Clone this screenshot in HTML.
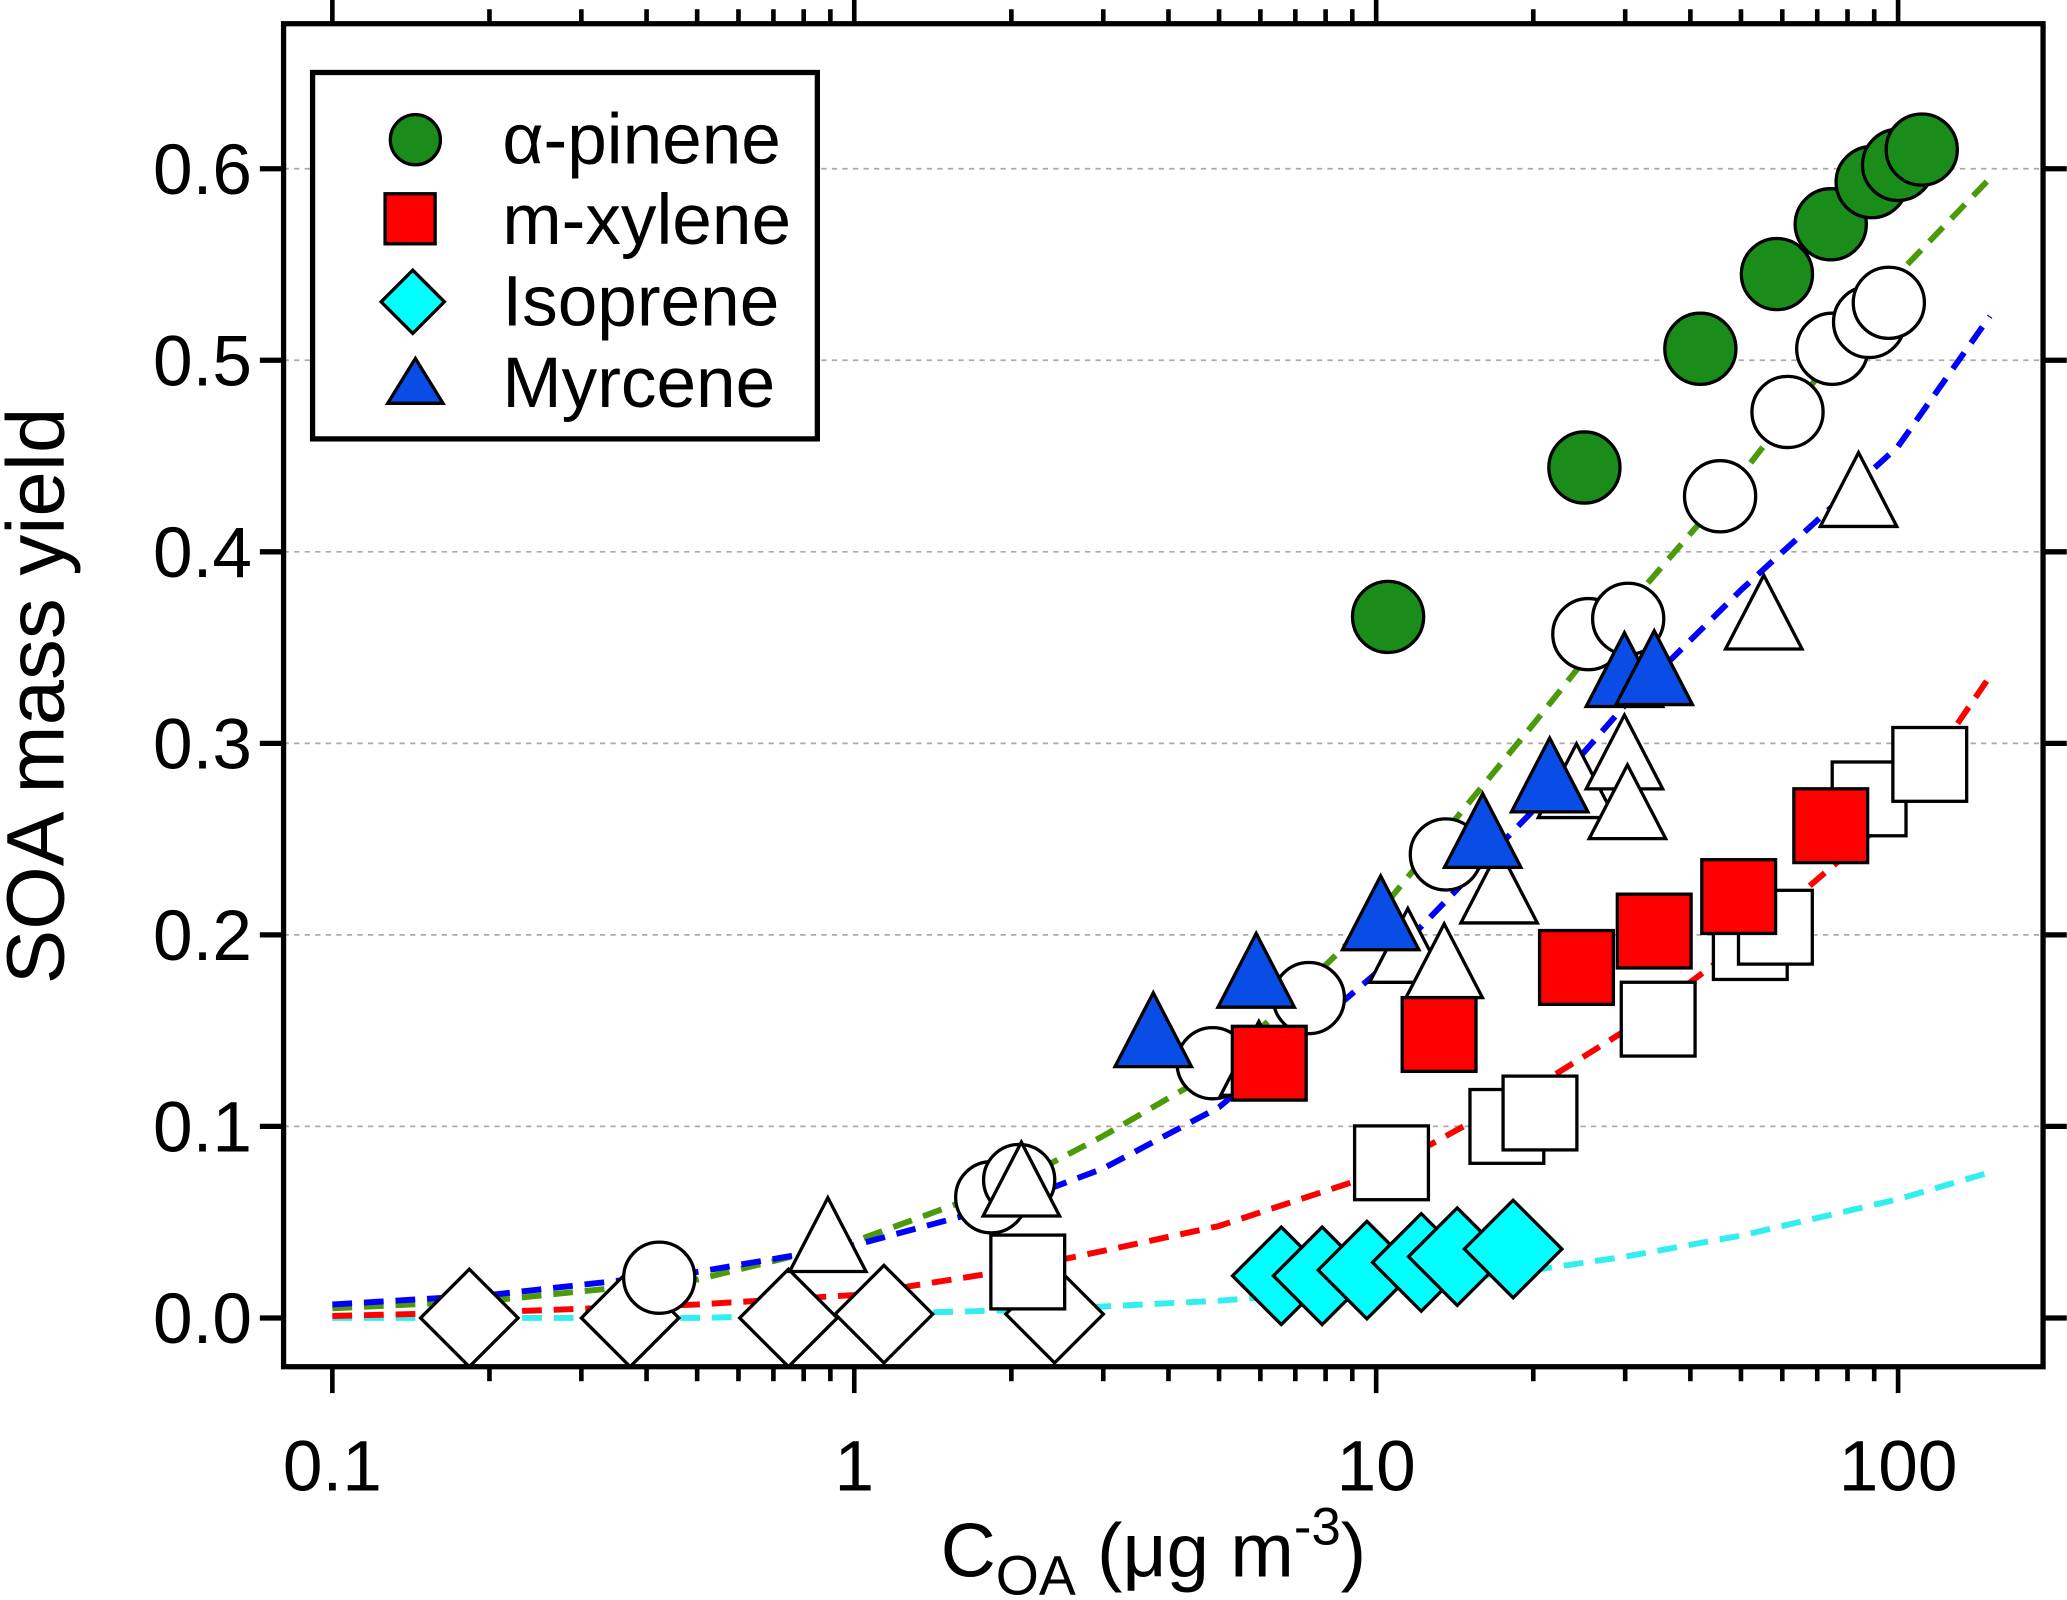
<!DOCTYPE html>
<html><head><meta charset="utf-8"><style>
html,body{margin:0;padding:0;background:#fff;}
svg{display:block;font-family:"Liberation Sans",Arial,sans-serif;}
</style></head><body>
<svg id="chart" width="2067" height="1600" viewBox="0 0 1568 1214" xmlns="http://www.w3.org/2000/svg">
<g id="grid"></g>
<g id="curves"></g>
<g id="marks"></g>
<rect x="215" y="18" width="1335" height="1019" fill="none" stroke="#000" stroke-width="4"/>
<g id="ticks"></g>
<text transform="translate(48,528) rotate(-90)" text-anchor="middle" font-size="62">SOA mass yield</text>
<text x="875" y="1196" text-anchor="middle" font-size="58">C<tspan font-size="42" dy="14">OA</tspan><tspan dy="-14"> (μg m</tspan><tspan font-size="40" dy="-24">-3</tspan><tspan dy="24">)</tspan></text>
<g>
<rect x="237" y="55" width="383" height="278" fill="#fff" stroke="#000" stroke-width="4"/>
<circle cx="315" cy="106" r="19" fill="#1a8c1a" stroke="#000" stroke-width="2.5"/>
<text x="381" y="124" font-size="54">α-pinene</text>
<rect x="292" y="147" width="38" height="38" fill="#f00" stroke="#000" stroke-width="2.5"/>
<text x="381" y="185" font-size="54">m-xylene</text>
<polygon points="313,205 337,229 313,253 289,229" fill="#00ffff" stroke="#000" stroke-width="2.5"/>
<text x="381" y="247" font-size="54">Isoprene</text>
<polygon points="315,272 336,306 294,306" fill="#0a4de6" stroke="#000" stroke-width="2.5"/>
<text x="381" y="309" font-size="54">Myrcene</text>
</g>
</svg>
<script>
const yTicks=[0,0.1,0.2,0.3,0.4,0.5,0.6];
const yTickLabels=["0.0","0.1","0.2","0.3","0.4","0.5","0.6"];
const xTicks=[0.1,1,10,100];
const xTickLabels=["0.1","1","10","100"];
const curveX=[0.1,0.2,0.5,1,2,3,5,10,20,30,50,100,150];
const curveGreen=[0.005,0.009,0.02,0.04,0.07,0.095,0.13,0.21,0.31,0.37,0.44,0.545,0.595];
const curveBlue=[0.007,0.012,0.024,0.038,0.06,0.078,0.11,0.18,0.265,0.32,0.38,0.455,0.523];
const curveRed=[0.001,0.003,0.007,0.012,0.025,0.035,0.048,0.075,0.12,0.15,0.195,0.265,0.335];
const curveCyan=[0,0,0,0.002,0.004,0.006,0.009,0.015,0.025,0.032,0.043,0.062,0.076];
const apOpenX=[0.423,4.86,7.43,1.83,2.07,13.6,25.5,30.4,45.6,61.4,74.8,88,96];
const apOpenY=[0.021,0.133,0.167,0.063,0.072,0.242,0.357,0.365,0.429,0.473,0.506,0.52,0.53];
const apX=[10.54,25.06,41.8,58.6,74.3,89,100,111];
const apY=[0.366,0.444,0.506,0.545,0.571,0.593,0.602,0.61];
const mxOpenX=[2.15,10.7,17.8,20.6,34.7,52.1,58.2,88,115];
const mxOpenY=[0.024,0.081,0.1,0.107,0.156,0.196,0.204,0.271,0.289];
const mxX=[6.24,13.2,24.2,34.1,49.5,74.3];
const mxY=[0.133,0.148,0.183,0.202,0.22,0.257];
const isoOpenX=[0.183,0.372,0.748,1.14,2.42];
const isoOpenY=[0,0,0,0.002,0.002];
const isoX=[6.58,7.88,9.6,12.2,14.3,18.3];
const isoY=[0.022,0.022,0.025,0.029,0.032,0.036];
const myOpenX=[0.89,2.09,5.96,11.5,13.5,17.2,24.2,29.9,30.3,55.3,84];
const myOpenY=[0.038,0.067,0.13,0.189,0.181,0.22,0.275,0.29,0.264,0.363,0.427];
const myX=[3.74,5.89,10.2,16.0,21.5,29.9,34.1];
const myY=[0.145,0.176,0.206,0.249,0.278,0.333,0.334];

const NS="http://www.w3.org/2000/svg";
const X0=215,X1=1550,Y0=18,Y1=1037;
function sx(v){return 648+396*Math.log10(v);}
function sy(v){return 1000-1453.3*v;}
function mk(tag,attrs,parent){const e=document.createElementNS(NS,tag);for(const k in attrs)e.setAttribute(k,attrs[k]);parent.appendChild(e);return e;}
const grid=document.getElementById('grid'),ticks=document.getElementById('ticks'),curves=document.getElementById('curves'),marks=document.getElementById('marks');

yTicks.forEach((v,i)=>{
  const y=sy(v);
  if(v>0){const g=mk('line',{x1:X0,x2:X1,y1:y,y2:y,stroke:'#aaa','stroke-width':1.3,'stroke-dasharray':'4,4'},grid);
  
  }
  const t1=mk('line',{x1:X0-18,x2:X0,y1:y,y2:y,stroke:'#000','stroke-width':4},ticks);
  
  
  const t2=mk('line',{x1:X1,x2:X1+18,y1:y,y2:y,stroke:'#000','stroke-width':4},ticks);
  
  
  const l=mk('text',{x:191,y:y+19,'text-anchor':'end','font-size':54},ticks);
  l.textContent=yTickLabels[i];
  
  
});
for(let d=0.1;d<=100;d*=10){
  for(let m=1;m<10;m++){
    const v=d*m; const x=sx(v); if(x>X1)break;
    const len=m===1?20:11;
    const b=mk('line',{x1:x,x2:x,y1:Y1,y2:Y1+len,stroke:'#000','stroke-width':3.5},ticks);
    
    
    const t=mk('line',{x1:x,x2:x,y1:Y0-len,y2:Y0,stroke:'#000','stroke-width':3.5},ticks);
    
    
    if(d>=100)break;
  }
}
xTicks.forEach((v,i)=>{
  const l=mk('text',{x:sx(v),y:1131,'text-anchor':'middle','font-size':54},ticks);
  l.textContent=xTickLabels[i];
  
  
});
function curve(ys,color,name){
  const d=curveX.map((x,i)=>(i?'L':'M')+sx(x).toFixed(1)+','+sy(ys[i]).toFixed(1)).join(' ');
  const p=mk('path',{d:d,fill:'none',stroke:color,'stroke-width':4.5,'stroke-dasharray':'15,9'},curves);
  
  
}
curve(curveCyan,'#33eeee','isoprene-fit-curve');
curve(curveRed,'#f00','m-xylene-fit-curve');
curve(curveGreen,'#4a9a0a','alpha-pinene-fit-curve');
curve(curveBlue,'#0000ff','myrcene-fit-curve');

function circles(xs,ys,fill,name){xs.forEach((x,i)=>{const c=mk('circle',{cx:sx(x),cy:sy(ys[i]),r:27,fill:fill,stroke:'#000','stroke-width':2.5},marks);
  
  });}
function squares(xs,ys,fill,name){xs.forEach((x,i)=>{const c=mk('rect',{x:sx(x)-28,y:sy(ys[i])-28,width:56,height:56,fill:fill,stroke:'#000','stroke-width':2.5},marks);
  
  });}
function diamonds(xs,ys,fill,name){xs.forEach((x,i)=>{const cx=sx(x),cy=sy(ys[i]);const c=mk('polygon',{points:`${cx},${cy-37} ${cx+37},${cy} ${cx},${cy+37} ${cx-37},${cy}`,fill:fill,stroke:'#000','stroke-width':2.5},marks);
  
  });}
function tris(xs,ys,fill,name){xs.forEach((x,i)=>{const cx=sx(x),cy=sy(ys[i]);const c=mk('polygon',{points:`${cx},${cy-36} ${cx+29},${cy+20} ${cx-29},${cy+20}`,fill:fill,stroke:'#000','stroke-width':2.5},marks);
  
  });}
diamonds(isoOpenX,isoOpenY,'#fff','isoprene-open-point');
circles(apOpenX,apOpenY,'#fff','alpha-pinene-open-point');
squares(mxOpenX,mxOpenY,'#fff','m-xylene-open-point');
tris(myOpenX,myOpenY,'#fff','myrcene-open-point');
tris(myX,myY,'#0a4de6','myrcene-point');
squares(mxX,mxY,'#f00','m-xylene-point');
circles(apX,apY,'#1a8c1a','alpha-pinene-point');
diamonds(isoX,isoY,'#00ffff','isoprene-point');
</script>
</body></html>
